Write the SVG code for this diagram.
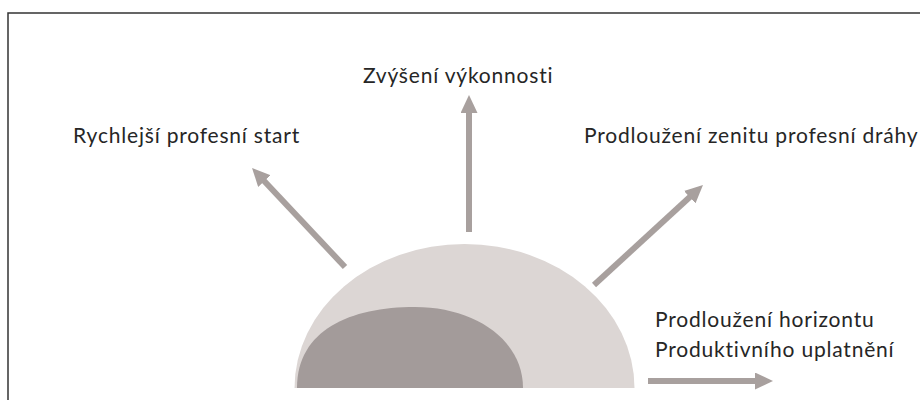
<svg xmlns="http://www.w3.org/2000/svg" width="920" height="400" viewBox="0 0 920 400">
  <style>
    .lbl { font-family: Lato, "Open Sans", "Liberation Sans", sans-serif; font-size: 21px; letter-spacing: 0.8px; fill: #262626; }
    .arrow { stroke: #a8a09e; stroke-width: 6; fill: none; marker-end: url(#head); }
  </style>
  <defs>
    <marker id="head" markerUnits="userSpaceOnUse" markerWidth="18" markerHeight="17" refX="2" refY="8.5" orient="auto" viewBox="0 0 18 17">
      <path d="M0,0 L18,8.5 L0,17 Z" fill="#a8a09e"/>
    </marker>
  </defs>
  <rect x="0" y="0" width="920" height="400" fill="#ffffff"/>
  <path d="M8,400 V13 H920" fill="none" stroke="#333333" stroke-width="1.5"/>

  <g id="sun">
    <path d="M294.5,388 A170,144 0 0 1 634.5,388 Z" fill="#dcd6d4"/>
    <path d="M297,388 C297,330 350,307 415,307 C475,307 523,340 523,388 Z" fill="#a39b9a"/>
  </g>

  <g id="connectors">
    <line class="arrow" x1="345" y1="267" x2="263" y2="179.7"/>
    <line class="arrow" x1="469" y1="232" x2="469" y2="111"/>
    <line class="arrow" x1="594" y1="285" x2="691.2" y2="195.8"/>
    <line class="arrow" x1="648" y1="381" x2="757" y2="381"/>
  </g>

  <g id="label-start"><text class="lbl" x="73" y="143">Rychlejší profesní start</text></g>
  <g id="label-vykon"><text class="lbl" x="363" y="83">Zvýšení výkonnosti</text></g>
  <g id="label-zenit"><text class="lbl" x="584" y="143">Prodloužení zenitu profesní dráhy</text></g>
  <g id="label-horizont">
    <text class="lbl" x="655" y="327">Prodloužení horizontu</text>
    <text class="lbl" x="655" y="357">Produktivního uplatnění</text>
  </g>
</svg>
